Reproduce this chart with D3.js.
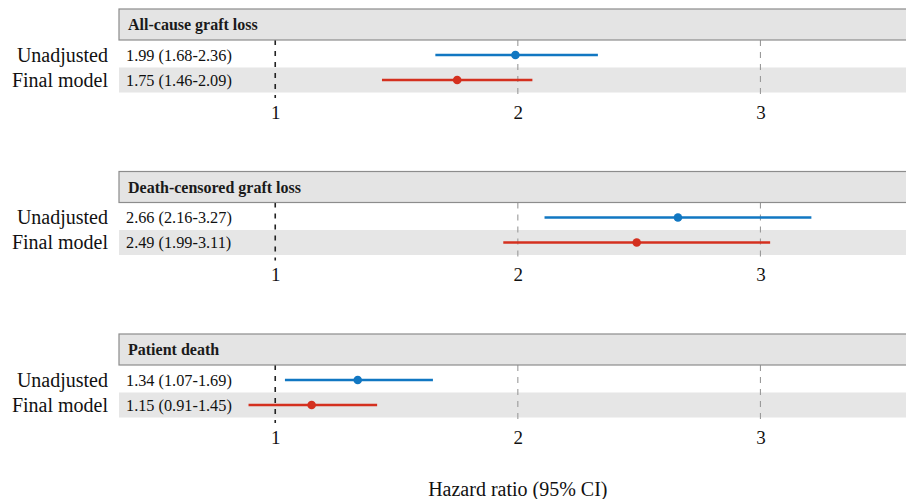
<!DOCTYPE html>
<html>
<head>
<meta charset="utf-8">
<script src="https://cdn.jsdelivr.net/npm/d3@7"></script>
<style>
  body { margin: 0; background: #fff; }
  svg { display: block; font-family: "Liberation Serif", "Times New Roman", serif; }
</style>
</head>
<body>
<svg id="drawing_region"></svg>
<script>
// outcomes (one panel each) and the two models
const outcomes = ['All-cause graft loss', 'Death-censored graft loss', 'Patient death'];
const models = ['Unadjusted', 'Final model'];
const modelColors = ['#1177c2', '#d4301f'];

// hazard ratios, as drawn (index: outcome, then model)
const hr = [[1.99, 1.75], [2.66, 2.49], [1.34, 1.15]];
const lower = [[1.66, 1.44], [2.11, 1.94], [1.04, 0.89]];
const upper = [[2.33, 2.06], [3.21, 3.04], [1.65, 1.42]];
// printed labels
const labels = [
    ['1.99 (1.68-2.36)', '1.75 (1.46-2.09)'],
    ['2.66 (2.16-3.27)', '2.49 (1.99-3.11)'],
    ['1.34 (1.07-1.69)', '1.15 (0.91-1.45)']
];
const xticks = [1, 2, 3];

const config = {
    width: 906,
    height: 499,
    plotLeft: 119,
    panelTop: 9,
    panelPitch: 162.5,
    headerHeight: 31,
    rowHeight: 25
};

const svg = d3.select('#drawing_region')
    .attr('width', config.width)
    .attr('height', config.height);

const xscale = d3.scaleLinear()
    .domain([0.356, 3.6])
    .range([config.plotLeft, config.width]);

const panelScale = d3.scaleBand()
    .domain(outcomes)
    .range([config.panelTop, config.panelTop + config.panelPitch * outcomes.length]);

const rowScale = d3.scaleBand()
    .domain(models)
    .range([2.5, 2.5 + config.rowHeight * 2]);

const xaxis = d3.axisBottom(xscale)
    .tickValues(xticks)
    .tickFormat(d3.format('d'))
    .tickSize(0)
    .tickPadding(0);

outcomes.forEach((name, i) => {
    const top = panelScale(name);
    const g = svg.append('g')
        .attr('transform', `translate(0, ${top})`);
    const body = g.append('g')
        .attr('transform', `translate(0, ${config.headerHeight})`);

    // header strip
    g.append('rect')
        .attr('x', config.plotLeft)
        .attr('y', 0)
        .attr('width', config.width - config.plotLeft + 2)
        .attr('height', config.headerHeight)
        .attr('fill', '#e4e4e4')
        .attr('stroke', '#8c8c8c')
        .attr('stroke-width', 1.2);
    g.append('text')
        .attr('x', config.plotLeft + 9)
        .attr('y', config.headerHeight / 2 + 5.5)
        .attr('font-size', '16px')
        .attr('font-weight', 'bold')
        .attr('fill', '#1a1a1a')
        .text(name);

    // shaded band behind the final model row
    body.append('rect')
        .attr('x', config.plotLeft)
        .attr('y', rowScale(models[1]))
        .attr('width', config.width - config.plotLeft)
        .attr('height', rowScale.bandwidth())
        .attr('fill', '#e6e6e6');

    // reference lines
    body.selectAll('.vline')
        .data(xticks)
        .join('line')
        .attr('class', 'vline')
        .attr('x1', d => xscale(d))
        .attr('x2', d => xscale(d))
        .attr('y1', 0)
        .attr('y2', 58)
        .attr('stroke', d => d === 1 ? '#222' : '#9a9a9a')
        .attr('stroke-width', d => d === 1 ? 1.6 : 1.1)
        .attr('stroke-dasharray', d => d === 1 ? '5,6' : '6,6');

    models.forEach((m, j) => {
        const cy = rowScale(m) + rowScale.bandwidth() / 2;
        g.append('text')
            .attr('x', 108)
            .attr('y', config.headerHeight + cy + 6.5)
            .attr('text-anchor', 'end')
            .attr('font-size', '20px')
            .attr('fill', '#111')
            .text(m);
        body.append('text')
            .attr('x', 126)
            .attr('y', cy + 5.5)
            .attr('font-size', '16.3px')
            .attr('fill', '#111')
            .text(labels[i][j]);
        body.append('line')
            .attr('x1', xscale(lower[i][j]))
            .attr('x2', xscale(upper[i][j]))
            .attr('y1', cy)
            .attr('y2', cy)
            .attr('stroke', modelColors[j])
            .attr('stroke-width', 2.6);
        body.append('circle')
            .attr('cx', xscale(hr[i][j]))
            .attr('cy', cy)
            .attr('r', 4.3)
            .attr('fill', modelColors[j]);
    });

    // tick labels
    const axisG = body.append('g')
        .attr('transform', `translate(0, 65)`)
        .call(xaxis);
    axisG.select('.domain').remove();
    axisG.selectAll('text')
        .attr('font-family', '"Liberation Serif", "Times New Roman", serif')
        .attr('font-size', '19px')
        .attr('fill', '#111')
        .attr('dy', '0.71em');
});

svg.append('text')
    .attr('x', xscale(2))
    .attr('y', 496)
    .attr('text-anchor', 'middle')
    .attr('font-size', '20px')
    .attr('fill', '#111')
    .text('Hazard ratio (95% CI)');
</script>
</body>
</html>
